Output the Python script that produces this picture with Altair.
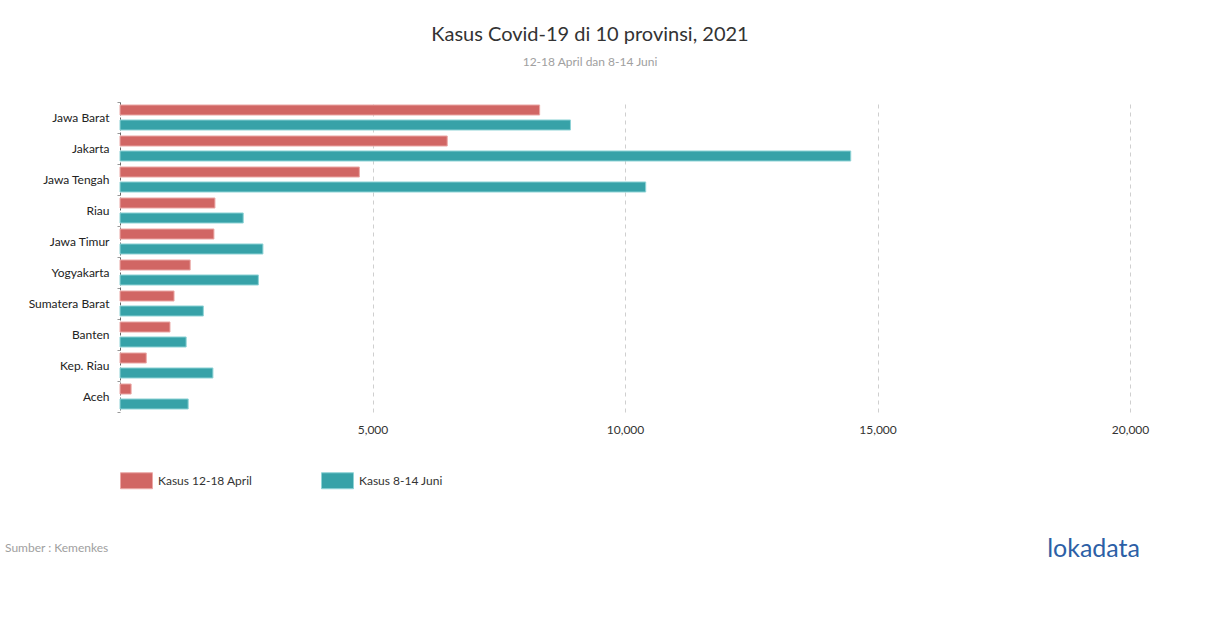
import altair as alt
import pandas as pd

provinces = ["Jawa Barat", "Jakarta", "Jawa Tengah", "Riau", "Jawa Timur",
             "Yogyakarta", "Sumatera Barat", "Banten", "Kep. Riau", "Aceh"]
april = [8310, 6480, 4740, 1880, 1860, 1390, 1070, 990, 520, 220]
juni = [8920, 14470, 10410, 2440, 2830, 2740, 1650, 1310, 1840, 1350]
series = ["Kasus 12-18 April", "Kasus 8-14 Juni"]
colors = ["#D16664", "#37A2A8"]
strokes = ["#EBA8A6", "#8FD3D6"]

rows = []
for p, a, j in zip(provinces, april, juni):
    rows.append({"prov": p, "seri": series[0], "val": a})
    rows.append({"prov": p, "seri": series[1], "val": j})
df = pd.DataFrame(rows)

FONT = "Lato"

bars = alt.Chart(df).mark_bar(strokeWidth=1).encode(
    x=alt.X("val:Q", scale=alt.Scale(domain=[0, 20000], nice=False),
            axis=alt.Axis(values=[5000, 10000, 15000, 20000], format=",.0f", title=None,
                          domain=False, ticks=False, labelPadding=12, labelFlush=False,
                          grid=True, gridDash=[4, 4], gridColor="#CFCFCF",
                          labelFontSize=12, labelColor="#333", labelFont=FONT)),
    y=alt.Y("prov:N", sort=provinces,
            scale=alt.Scale(paddingInner=0, paddingOuter=0),
            axis=alt.Axis(title=None, domainDash=[3, 2], domainColor="#666",
                          ticks=True, tickSize=3, tickColor="#999", tickBand="extent",
                          labelPadding=8, labelFontSize=12, labelColor="#222", labelFont=FONT)),
    yOffset=alt.YOffset("seri:N", sort=series,
                        scale=alt.Scale(paddingInner=0.33, paddingOuter=0.2)),
    color=alt.Color("seri:N", sort=series, scale=alt.Scale(domain=series, range=colors),
                    legend=alt.Legend(title=None, orient="none", legendX=0, legendY=362,
                                      direction="horizontal", symbolType="M-1,-0.5H1V0.5H-1Z",
                                      symbolSize=1024, symbolStrokeWidth=1,
                                      columnPadding=66, labelOffset=5,
                                      labelFontSize=12, labelColor="#333", labelFont=FONT)),
    stroke=alt.Stroke("seri:N", sort=series, scale=alt.Scale(domain=series, range=strokes),
                      legend=None),
)

source = alt.Chart(alt.Data(values=[{}])).mark_text(
    text="Sumber : Kemenkes", align="left", baseline="middle",
    fontSize=12, color="#A0A0A0", font=FONT
).encode(x=alt.value(-115), y=alt.value(446))

logo = alt.Chart(alt.Data(values=[{}])).mark_text(
    text="lokadata", align="right", baseline="middle",
    fontSize=25, color="#2D5FA6", font=FONT
).encode(x=alt.value(1020), y=alt.value(447))

chart = alt.layer(bars, source, logo).properties(
    width=1010, height=310,
    autosize=alt.AutoSizeParams(type="none"),
    padding={"left": 120, "top": 102, "right": 80, "bottom": 216},
    title=alt.TitleParams(
        text="Kasus Covid-19 di 10 provinsi, 2021",
        subtitle="12-18 April dan 8-14 Juni",
        anchor="middle", frame="group", dx=-35, offset=28,
        fontSize=20, font=FONT, fontWeight="normal", color="#333",
        subtitleFontSize=12, subtitleFont=FONT, subtitleColor="#A0A0A0",
        subtitlePadding=12,
    ),
).configure(font=FONT).configure_view(stroke="transparent", strokeWidth=0)

chart.save("out.html", embed_options={"renderer": "svg", "actions": False})
